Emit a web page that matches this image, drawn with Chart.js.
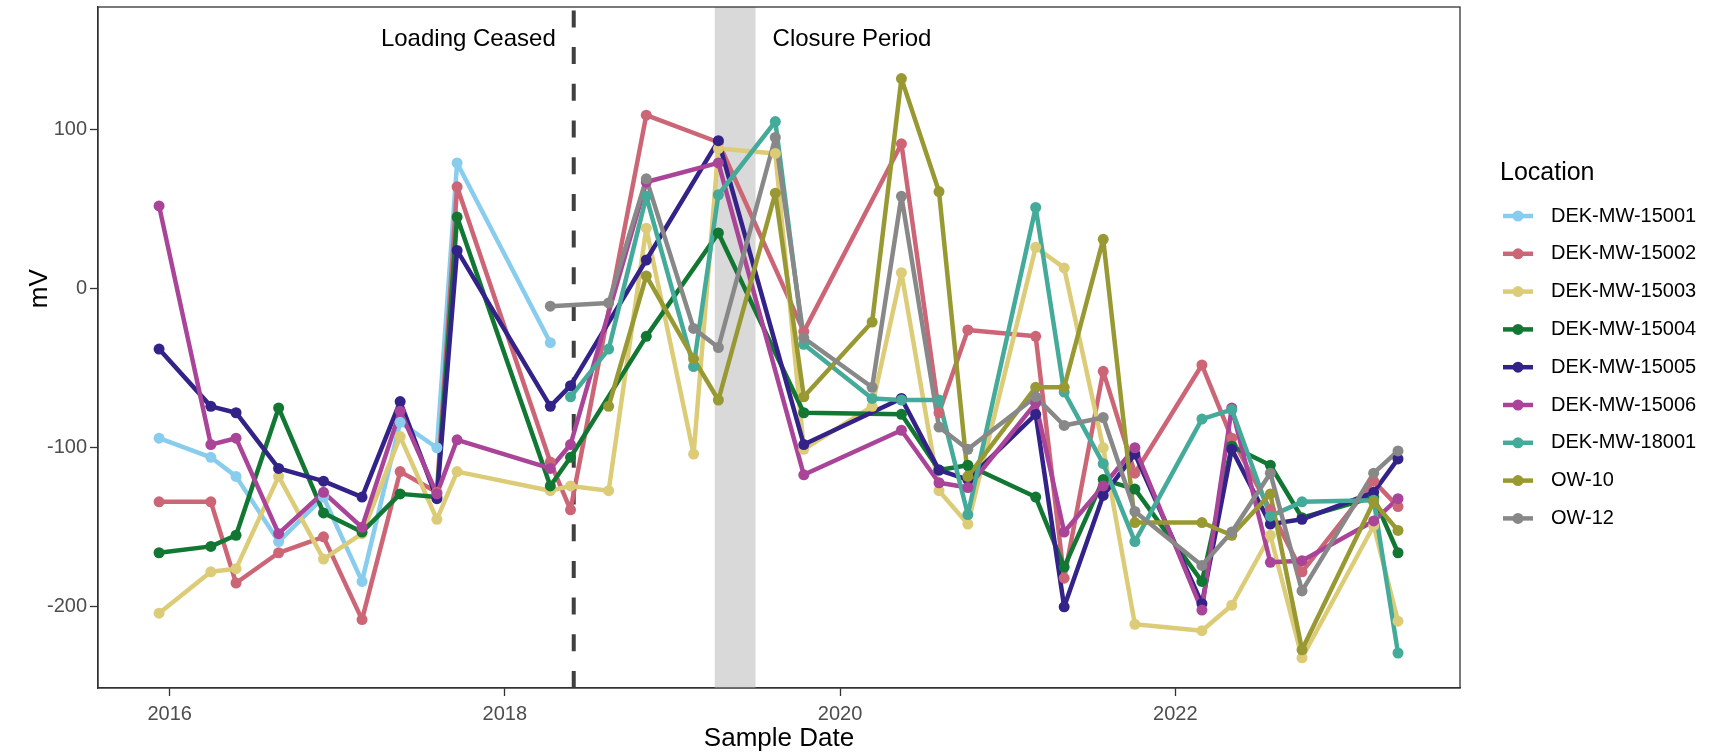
<!DOCTYPE html>
<html>
<head>
<meta charset="utf-8">
<script src="https://cdn.jsdelivr.net/npm/chart.js@4.4.1/dist/chart.umd.min.js"></script>
<style>
html,body{margin:0;padding:0;background:#ffffff;}
canvas{display:block;}
</style>
</head>
<body>
<canvas id="c" width="1715" height="754"></canvas>
<script>
// ---------- DATA ----------
const sampleDates = [
  "2015-12-09","2016-03-31","2016-05-25","2016-08-26","2016-12-02","2017-02-24","2017-05-18","2017-08-06",
  "2017-09-19","2018-04-10","2018-05-24","2018-08-15","2018-11-05","2019-02-16","2019-04-11","2019-08-13",
  "2019-10-14","2020-03-11","2020-05-14","2020-08-04","2020-10-06","2021-03-03","2021-05-04","2021-07-28",
  "2021-10-05","2022-02-28","2022-05-04","2022-07-27","2022-10-04","2023-03-09","2023-05-01"
];
const locations = ["DEK-MW-15001","DEK-MW-15002","DEK-MW-15003","DEK-MW-15004","DEK-MW-15005","DEK-MW-15006","DEK-MW-18001","OW-10","OW-12"];
const seriesColors = ["#88CCEE","#CC6677","#DDCC77","#117733","#332288","#AA4499","#44AA99","#999933","#888888"];

const mw15001 = [-94,-106,-118,-159,-131,-184,-84,-100,79,-34,null,null,null,null,null,null,null,null,null,null,null,null,null,null,null,null,null,null,null,null,null];
const mw15002 = [-134,-134,-185,-166,-156,-208,-115,-128,64,-109,-139,null,109,null,92,null,-27,null,91,-78,-26,-30,-182,-52,-116,-48,-94,-139,-178,-121,-137];
const mw15003 = [-204,-178,-176,-118,-170,-154,-93,-145,-115,-127,-124,-127,38,-104,88,85,-101,-74,10,-127,-148,26,13,-100,-211,-215,-199,-155,-232,-149,-209];
const mw15004 = [-166,-162,-155,-75,-141,-153,-129,-131,45,-124,-106,null,-30,null,35,null,-78,null,-79,-114,-111,-131,-175,-120,-126,-184,-99,-111,-144,-131,-166];
const mw15005 = [-38,-74,-78,-113,-121,-131,-71,-132,24,-74,-61,null,18,null,93,null,-98,null,-69,-114,-120,-79,-200,-130,-104,-198,-101,-148,-145,-128,-107];
const mw15006 = [52,-98,-94,-154,-128,-150,-77,-129,-95,-113,-98,null,67,null,79,null,-117,null,-89,-122,-125,-72,-153,-124,-100,-202,-75,-172,-171,-146,-132];
const mw18001 = [null,null,null,null,null,null,null,null,null,null,-68,-38,58,-49,59,105,-35,-69,-70,-70,-142,51,-65,-110,-159,-82,-76,-143,-134,-133,-229];
const ow10    = [null,null,null,null,null,null,null,null,null,null,null,-74,8,-44,-70,60,-68,-21,132,61,-118,-62,-62,31,-147,-147,-155,-129,-227,-134,-152];
const ow12    = [null,null,null,null,null,null,null,null,null,-11,null,-9,69,-25,-37,95,-31,-62,58,-87,-101,-68,-86,-81,-140,-174,-153,-116,-190,-116,-102];

const seriesValues = [mw15001, mw15002, mw15003, mw15004, mw15005, mw15006, mw18001, ow10, ow12];

const yTickValues = [-200, -100, 0, 100];
const xTickYears = [2016, 2018, 2020, 2022];
const loadingCeasedDate = "2018-05-31";
const closureStartDate = "2019-04-03";
const closureEndDate = "2019-07-01";
const loadingLabel = "Loading Ceased";
const closureLabel = "Closure Period";
const yAxisTitle = "mV";
const xAxisTitle = "Sample Date";
const legendTitle = "Location";

// ---------- helpers ----------
function decYear(s) {
  const [y, m, d] = s.split("-").map(Number);
  const t = Date.UTC(y, m - 1, d), t0 = Date.UTC(y, 0, 1), t1 = Date.UTC(y + 1, 0, 1);
  return y + (t - t0) / (t1 - t0);
}
const FONT = "'Liberation Sans', Arial, Helvetica, sans-serif";

const lineSets = [], pointSets = [];
locations.forEach((name, i) => {
  const pts = [];
  seriesValues[i].forEach((v, k) => { if (v !== null) pts.push({ x: decYear(sampleDates[k]), y: v }); });
  lineSets.push({
    label: name, data: pts, borderColor: seriesColors[i], backgroundColor: seriesColors[i],
    borderWidth: 4.5, pointRadius: 0, pointHoverRadius: 0, borderJoinStyle: 'round', tension: 0,
    order: 100 + (8 - i)
  });
  pointSets.push({
    label: name + " pts", data: pts, showLine: false, borderColor: seriesColors[i], backgroundColor: seriesColors[i],
    pointBackgroundColor: seriesColors[i], pointBorderWidth: 0, pointRadius: 5.5, pointHoverRadius: 5.5,
    order: 8 - i
  });
});

const annotationPlugin = {
  id: 'annot',
  beforeDatasetsDraw(chart) {
    const { ctx, chartArea: a, scales: { x } } = chart;
    ctx.save();
    const b0 = x.getPixelForValue(decYear(closureStartDate));
    const b1 = x.getPixelForValue(decYear(closureEndDate));
    ctx.fillStyle = '#d9d9d9';
    ctx.fillRect(b0, a.top, b1 - b0, a.bottom - a.top);
    const lx = x.getPixelForValue(decYear(loadingCeasedDate));
    ctx.strokeStyle = '#404040';
    ctx.lineWidth = 4;
    ctx.setLineDash([17, 19.7]);
    ctx.beginPath();
    ctx.moveTo(lx, a.bottom);
    ctx.lineTo(lx, a.top);
    ctx.stroke();
    ctx.setLineDash([]);
    ctx.fillStyle = '#000000';
    ctx.font = "24px " + FONT;
    ctx.textBaseline = 'middle';
    ctx.textAlign = 'right';
    ctx.fillText(loadingLabel, lx - 18, 39);
    ctx.textAlign = 'left';
    ctx.fillText(closureLabel, b1 + 17, 39);
    ctx.restore();
  },
  afterDatasetsDraw(chart) {
    const { ctx, chartArea: a } = chart;
    ctx.save();
    ctx.strokeStyle = '#333333';
    ctx.lineWidth = 1.3;
    ctx.strokeRect(a.left, a.top, a.right - a.left, a.bottom - a.top);
    ctx.restore();
  },
  afterDraw(chart) {
    const { ctx, scales: { y } } = chart;
    ctx.save();
    ctx.fillStyle = '#000000';
    ctx.font = "26px " + FONT;
    ctx.textAlign = 'center';
    ctx.textBaseline = 'middle';
    ctx.translate(40, y.getPixelForValue(0));
    ctx.rotate(-Math.PI / 2);
    ctx.fillText(yAxisTitle, 0, 0);
    ctx.restore();
    ctx.save();
    ctx.fillStyle = '#000000';
    ctx.textBaseline = 'middle';
    ctx.textAlign = 'left';
    ctx.font = "25px " + FONT;
    ctx.fillText(legendTitle, 1500, 173);
    ctx.font = "20px " + FONT;
    locations.forEach((name, i) => {
      const yy = 216 + i * 37.8;
      ctx.strokeStyle = seriesColors[i];
      ctx.lineWidth = 4.5;
      ctx.beginPath(); ctx.moveTo(1503, yy); ctx.lineTo(1533, yy); ctx.stroke();
      ctx.fillStyle = seriesColors[i];
      ctx.beginPath(); ctx.arc(1518, yy, 5.5, 0, Math.PI * 2); ctx.fill();
      ctx.fillStyle = '#000000';
      ctx.fillText(name, 1551, yy);
    });
    ctx.restore();
  }
};

new Chart(document.getElementById('c'), {
  type: 'line',
  data: { datasets: lineSets.concat(pointSets) },
  options: {
    responsive: false,
    devicePixelRatio: 1,
    animation: false,
    layout: { padding: { left: 0, top: 7, right: 255, bottom: 0 } },
    plugins: { legend: { display: false }, tooltip: { enabled: false } },
    scales: {
      x: {
        type: 'linear',
        min: decYear("2015-07-29"),
        max: decYear("2023-09-13"),
        afterBuildTicks: (s) => { s.ticks = xTickYears.map(v => ({ value: v })); },
        afterFit: (s) => { s.height = 66; s.paddingLeft = 0; s.paddingRight = 0; },
        grid: { display: true, drawOnChartArea: false, drawTicks: true, tickLength: 8, tickColor: '#333333', tickWidth: 1.3 },
        border: { display: true, color: '#333333', width: 1.3 },
        ticks: { color: '#4d4d4d', font: { size: 20, family: FONT }, padding: 6, maxRotation: 0, callback: (v) => String(v) },
        title: { display: true, text: xAxisTitle, color: '#000000', font: { size: 26, family: FONT }, padding: { top: 3, bottom: 0 } }
      },
      y: {
        type: 'linear',
        min: -251,
        max: 177,
        afterBuildTicks: (s) => { s.ticks = yTickValues.map(v => ({ value: v })); },
        afterFit: (s) => { s.width = 98; s.paddingTop = 0; s.paddingBottom = 0; },
        grid: { display: true, drawOnChartArea: false, drawTicks: true, tickLength: 8, tickColor: '#333333', tickWidth: 1.3 },
        border: { display: true, color: '#333333', width: 1.3 },
        ticks: { color: '#4d4d4d', font: { size: 20, family: FONT }, padding: 3 },
        title: { display: false }
      }
    }
  },
  plugins: [annotationPlugin]
});
</script>
</body>
</html>
